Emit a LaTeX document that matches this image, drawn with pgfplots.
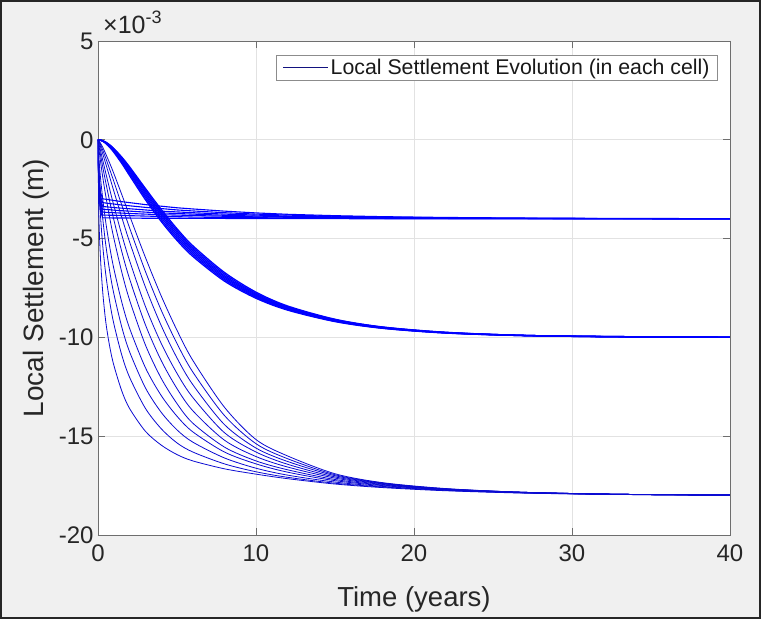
\documentclass[border=0pt]{standalone}
\usepackage{pgfplots}
\usepackage{pgfplotstable}
\pgfplotsset{compat=1.18}
\usepackage{fontspec}
\setmainfont{Liberation Sans}
\definecolor{figbg}{HTML}{F0F0F0}
\definecolor{gridc}{HTML}{E2E2E2}
\definecolor{axc}{HTML}{6E6E6E}
\definecolor{legnavy}{HTML}{12127F}
\definecolor{curve}{HTML}{0000FF}
\definecolor{curvec}{HTML}{0A0AD2}

% group converging to -4e-3
\pgfplotstableread{
t    A1    A2    A3    A4    A5    A6    A7
0    0     0     0     0     0     0     0
0.05 -1.80 -1.90 -2.00 -2.10 -2.20 -2.30 -2.40
0.15 -2.65 -2.85 -3.00 -3.15 -3.30 -3.45 -3.60
0.3  -2.99 -3.18 -3.37 -3.52 -3.66 -3.81 -3.95
0.5  -3.01 -3.20 -3.39 -3.53 -3.67 -3.81 -3.95
0.75 -3.04 -3.23 -3.41 -3.54 -3.68 -3.82 -3.95
1    -3.07 -3.25 -3.43 -3.56 -3.69 -3.82 -3.96
1.5  -3.13 -3.30 -3.46 -3.59 -3.71 -3.83 -3.96
2    -3.18 -3.34 -3.49 -3.61 -3.73 -3.84 -3.96
3    -3.28 -3.42 -3.55 -3.66 -3.76 -3.86 -3.97
4    -3.36 -3.48 -3.61 -3.70 -3.79 -3.88 -3.97
5    -3.44 -3.55 -3.65 -3.73 -3.81 -3.89 -3.97
6    -3.50 -3.60 -3.69 -3.76 -3.83 -3.91 -3.98
8    -3.61 -3.69 -3.76 -3.82 -3.87 -3.93 -3.98
10   -3.70 -3.76 -3.81 -3.86 -3.90 -3.94 -3.99
12   -3.77 -3.81 -3.86 -3.89 -3.92 -3.96 -3.99
15   -3.84 -3.87 -3.90 -3.92 -3.95 -3.97 -3.99
18   -3.89 -3.91 -3.93 -3.95 -3.96 -3.98 -4.00
22   -3.93 -3.95 -3.96 -3.97 -3.98 -3.99 -4.00
27   -3.96 -3.97 -3.98 -3.98 -3.99 -3.99 -4.00
33   -3.98 -3.99 -3.99 -3.99 -3.99 -4.00 -4.00
40   -3.99 -3.99 -4.00 -4.00 -4.00 -4.00 -4.00
}\tabA

% group converging to -10e-3
\pgfplotstableread{
t    B1    B2    B3    B4    B5    B6    B7
0    0     0     0     0     0     0     0
0.05 0     0     0     0     0     0     0
0.15 -0.02 -0.02 -0.02 -0.02 -0.01 -0.01 -0.01
0.3  -0.07 -0.07 -0.06 -0.06 -0.05 -0.05 -0.05
0.5  -0.19 -0.17 -0.16 -0.15 -0.14 -0.13 -0.12
0.75 -0.39 -0.36 -0.33 -0.31 -0.29 -0.28 -0.26
1    -0.63 -0.58 -0.55 -0.52 -0.49 -0.46 -0.44
1.5  -1.19 -1.12 -1.06 -1.01 -0.96 -0.91 -0.87
2    -1.81 -1.72 -1.64 -1.56 -1.49 -1.43 -1.37
3    -3.03 -2.92 -2.82 -2.72 -2.63 -2.54 -2.46
4    -4.13 -4.03 -3.92 -3.81 -3.71 -3.62 -3.52
5    -5.09 -4.99 -4.89 -4.79 -4.69 -4.59 -4.50
6    -5.90 -5.81 -5.72 -5.63 -5.54 -5.45 -5.36
8    -7.15 -7.08 -7.01 -6.94 -6.87 -6.79 -6.71
10   -8.02 -7.97 -7.92 -7.87 -7.82 -7.77 -7.71
12   -8.62 -8.59 -8.56 -8.52 -8.49 -8.45 -8.41
15   -9.20 -9.18 -9.16 -9.14 -9.12 -9.10 -9.08
18   -9.54 -9.53 -9.52 -9.50 -9.49 -9.48 -9.47
22   -9.78 -9.77 -9.77 -9.76 -9.75 -9.75 -9.74
27   -9.91 -9.91 -9.91 -9.90 -9.90 -9.90 -9.90
33   -9.97 -9.97 -9.97 -9.97 -9.96 -9.96 -9.96
40   -9.99 -9.99 -9.99 -9.99 -9.99 -9.99 -9.99
}\tabB

% group converging to -18e-3
\pgfplotstableread{
t    C1     C2     C3     C4     C5     C6     C7     C8     C9     C10
0    0      0      0      0      0      0      0      0      0      0
0.05 -3.68  -2.04  -1.28  -0.83  -0.40  -0.25  -0.17  -0.10  -0.06  -0.04
0.15 -5.88  -3.74  -2.60  -1.85  -1.04  -0.72  -0.51  -0.33  -0.23  -0.16
0.3  -7.71  -5.36  -3.98  -2.99  -1.89  -1.37  -1.03  -0.71  -0.52  -0.38
0.5  -9.26  -6.86  -5.36  -4.22  -2.88  -2.19  -1.71  -1.24  -0.95  -0.73
0.75 -10.50 -8.24  -6.70  -5.46  -3.99  -3.15  -2.53  -1.91  -1.52  -1.20
1    -11.40 -9.30  -7.78  -6.51  -4.97  -4.04  -3.32  -2.59  -2.10  -1.70
1.5  -12.70 -10.88 -9.46  -8.20  -6.68  -5.64  -4.79  -3.91  -3.29  -2.76
2    -13.60 -12.02 -10.73 -9.54  -8.11  -7.04  -6.12  -5.17  -4.46  -3.84
3    -14.75 -13.59 -12.55 -11.53 -10.38 -9.36  -8.43  -7.45  -6.66  -5.95
4    -15.45 -14.62 -13.79 -12.94 -12.07 -11.17 -10.30 -9.40  -8.62  -7.90
5    -15.93 -15.34 -14.68 -13.99 -13.35 -12.59 -11.82 -11.04 -10.31 -9.64
6    -16.25 -15.80 -15.30 -14.78 -14.34 -13.71 -13.04 -12.39 -11.75 -11.16
8    -16.65 -16.40 -16.10 -15.80 -15.55 -15.20 -14.82 -14.41 -13.95 -13.53
10   -16.92 -16.80 -16.62 -16.40 -16.25 -16.03 -15.80 -15.60 -15.38 -15.17
12   -17.15 -17.08 -16.97 -16.82 -16.70 -16.56 -16.42 -16.28 -16.14 -16.00
15   -17.42 -17.38 -17.32 -17.25 -17.19 -17.12 -17.06 -17.00 -16.95 -16.90
18   -17.60 -17.57 -17.54 -17.50 -17.47 -17.44 -17.41 -17.39 -17.37 -17.35
22   -17.76 -17.74 -17.73 -17.71 -17.70 -17.69 -17.68 -17.67 -17.66 -17.65
27   -17.88 -17.87 -17.86 -17.86 -17.85 -17.85 -17.84 -17.84 -17.84 -17.84
33   -17.95 -17.95 -17.94 -17.94 -17.94 -17.94 -17.94 -17.94 -17.94 -17.94
40   -17.98 -17.98 -17.98 -17.98 -17.98 -17.98 -17.98 -17.98 -17.98 -17.98
}\tabC

\begin{document}
\begin{tikzpicture}
\useasboundingbox (0,0) rectangle (761pt,619pt);
\fill[figbg] (0,0) rectangle (761pt,619pt);
\begin{axis}[
  name=ax,
  at={(98pt,84pt)}, anchor=south west,
  scale only axis, width=632pt, height=494pt,
  xmin=0, xmax=40, ymin=-20, ymax=5,
  xtick={0,10,20,30,40}, xticklabels={0,10,20,30,40},
  ytick={-20,-15,-10,-5,0,5}, yticklabels={-20,-15,-10,-5,0,5},
  tick pos=both, tick align=inside, major tick length=7pt,
  every tick/.style={axc, line width=0.8pt},
  axis line style={axc, line width=0.9pt},
  grid=major, major grid style={gridc, line width=0.8pt},
  axis background/.style={fill=white},
  tick label style={font=\fontsize{24}{26}\selectfont, text=black!85},
  xticklabel style={yshift=-6pt},
  yticklabel style={xshift=-1pt},
  xlabel={Time (years)}, ylabel={Local Settlement (m)},
  every axis x label/.style={at={(axis description cs:0.5,-0.1457)}, anchor=base, font=\fontsize{27.5}{30}\selectfont, text=black!85},
  every axis y label/.style={at={(axis description cs:-0.0870,0.5)}, rotate=90, anchor=base, font=\fontsize{28}{30}\selectfont, text=black!85},
  legend style={at={(0.981,0.972)}, anchor=north east, draw=black!45, line width=0.8pt, fill=white,
    font=\fontsize{21.3}{24}\selectfont, text=black!90, inner xsep=6pt, inner ysep=2pt, cells={anchor=west}},
  legend image code/.code={\draw[#1] (14pt,0pt) -- (59pt,0pt);},
]
\addlegendimage{legnavy, line width=1pt}
\addlegendentry{Local Settlement Evolution (in each cell)}
\pgfplotsinvokeforeach{1,...,7}{
  \addplot[curve, line width=1.1pt, forget plot] table[x=t, y=A#1] {\tabA};
}
\pgfplotsinvokeforeach{1,...,7}{
  \addplot[curve, line width=1.3pt, smooth, forget plot] table[x=t, y=B#1] {\tabB};
}
\pgfplotsinvokeforeach{1,...,10}{
  \addplot[curvec, line width=0.8pt, smooth, forget plot] table[x=t, y=C#1] {\tabC};
}
\end{axis}
\node[anchor=base west, inner sep=0pt, font=\fontsize{25}{27}\selectfont, text=black!85]
  at ([xshift=5pt, yshift=7pt]ax.north west) {×10\raisebox{10pt}{\fontsize{18}{19}\selectfont -3}};
\draw[black!85, line width=2pt] (1pt,1pt) rectangle (760pt,618pt);
\end{tikzpicture}
\end{document}
